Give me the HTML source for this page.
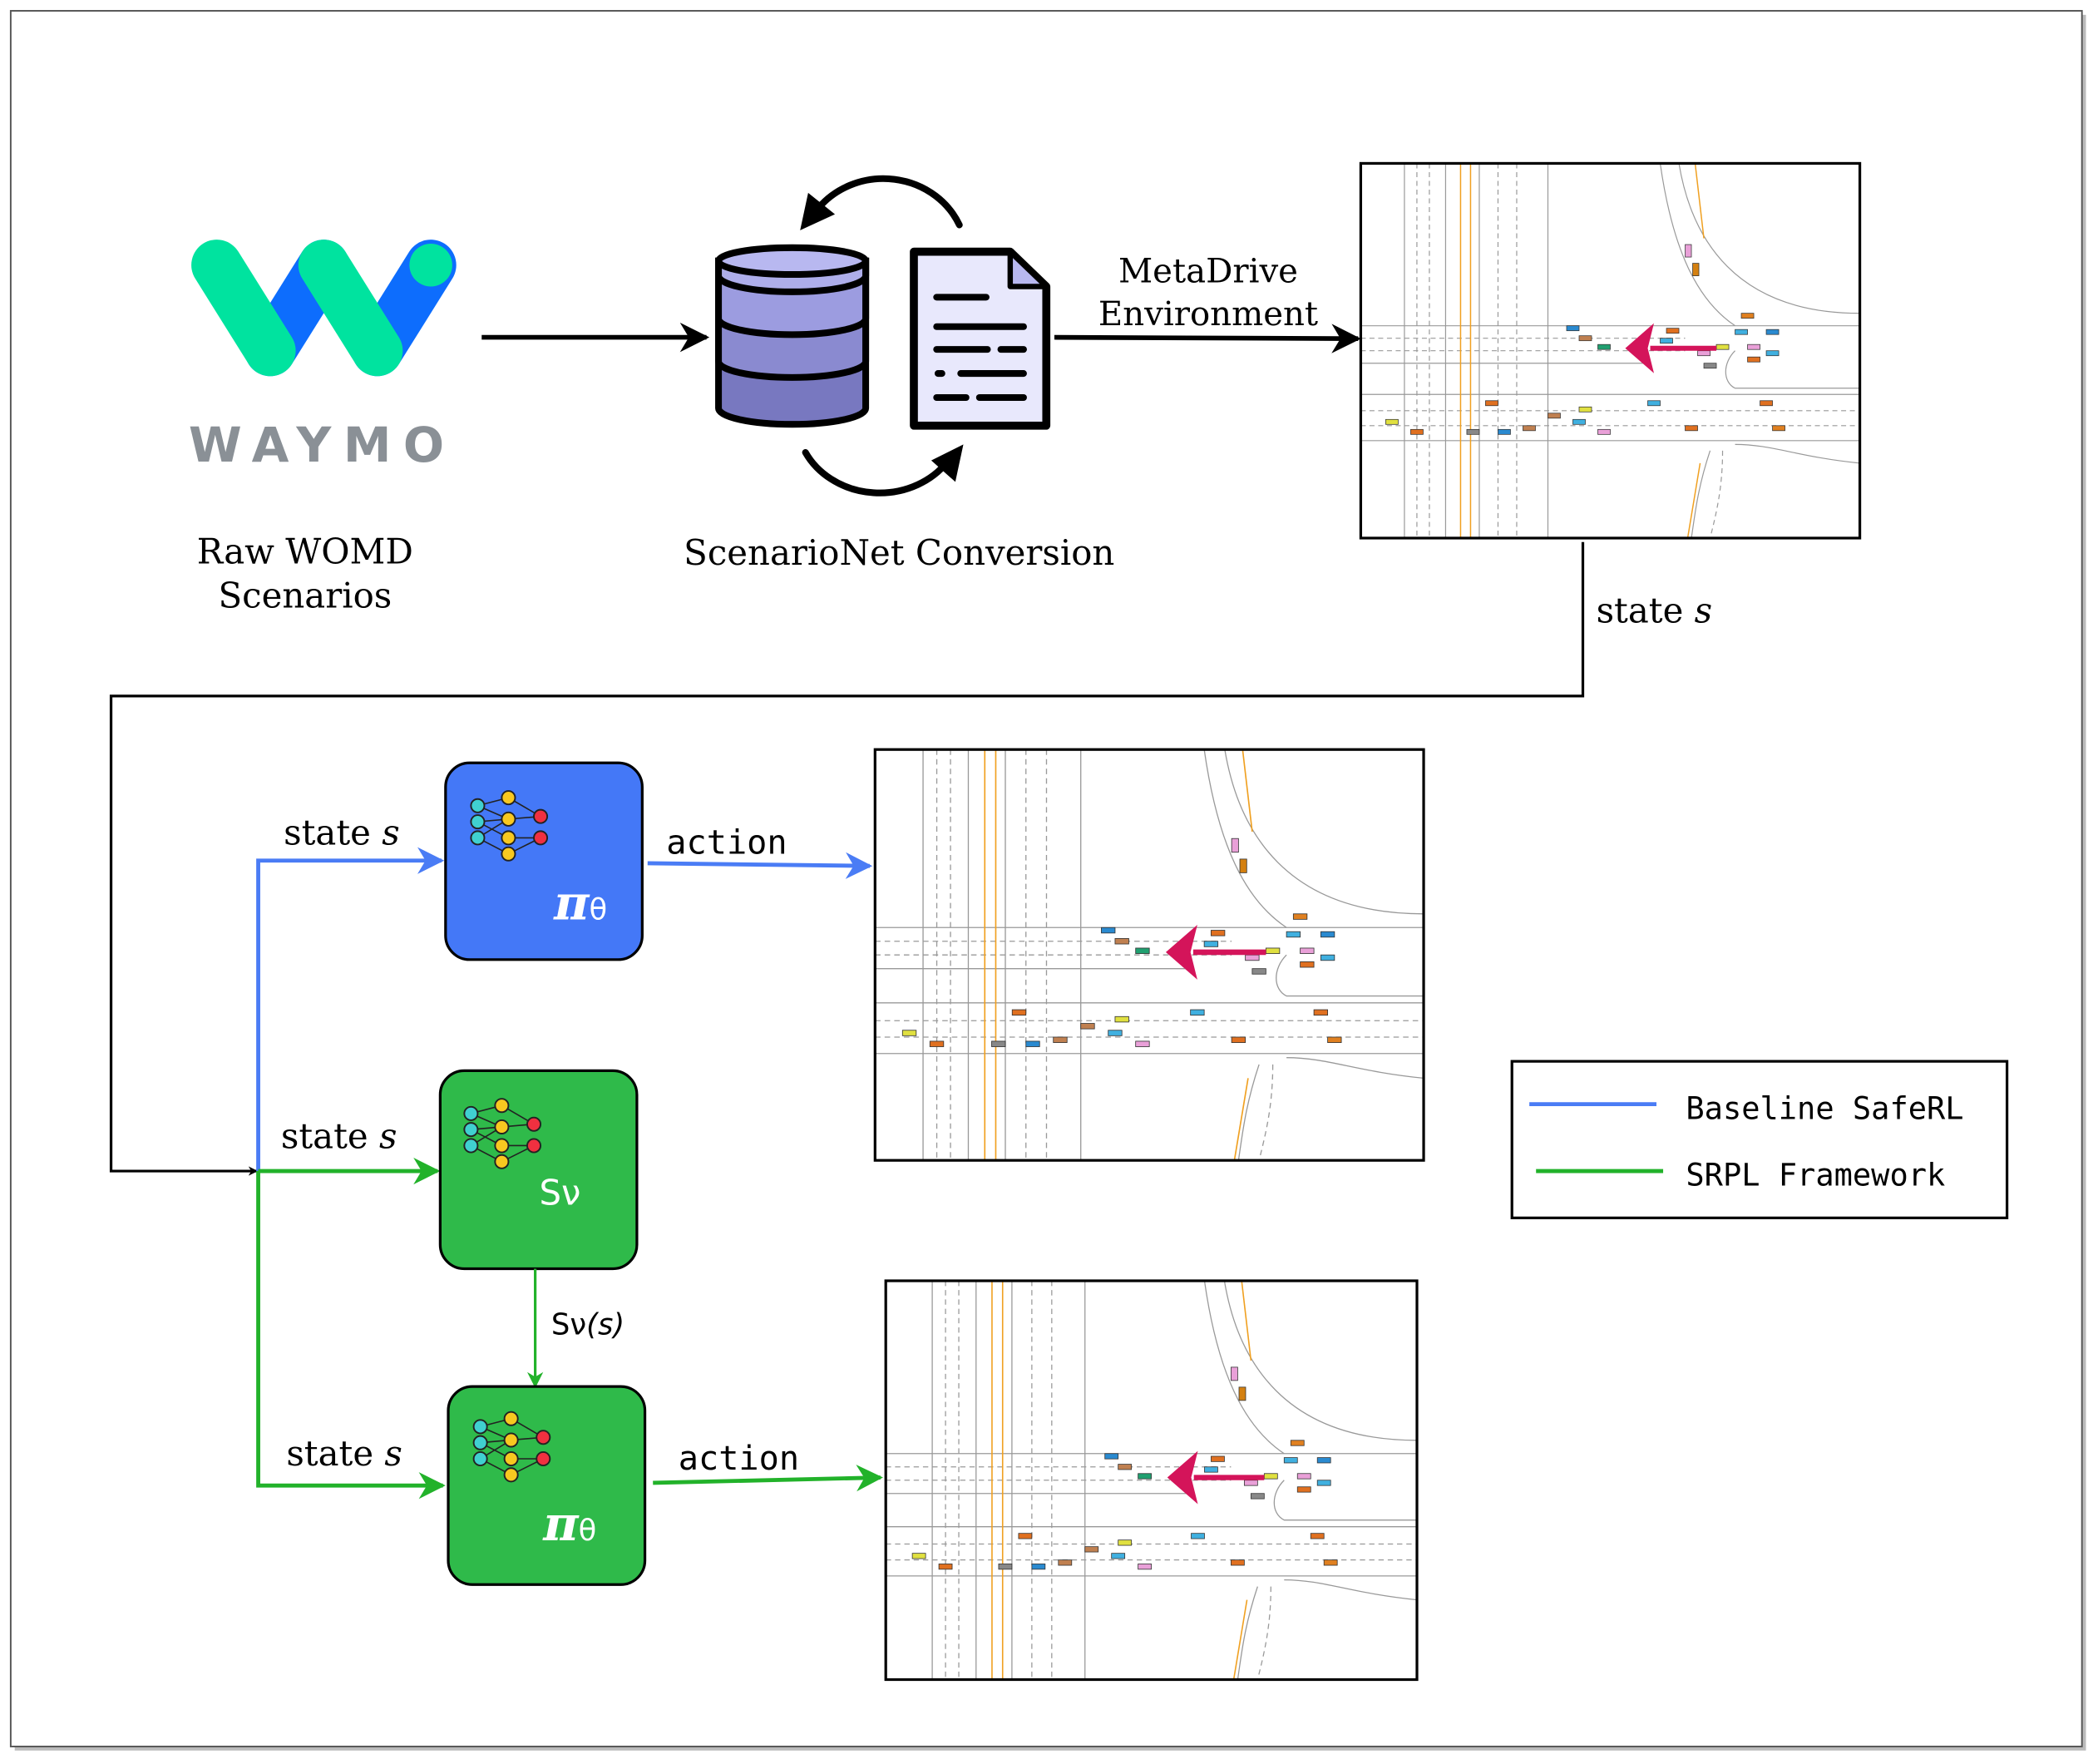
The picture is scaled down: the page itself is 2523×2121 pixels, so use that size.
<!DOCTYPE html>
<html><head><meta charset="utf-8"><style>
html,body{margin:0;padding:0;background:#fff;}
svg{display:block;}
.serif{font-family:"DejaVu Serif","Liberation Serif",serif;}
.mono{font-family:"DejaVu Sans Mono","Liberation Mono",monospace;}
.sans{font-family:"DejaVu Sans","Liberation Sans",sans-serif;}
</style></head><body>
<svg width="2523" height="2121" viewBox="0 0 1568 1318" xmlns="http://www.w3.org/2000/svg">
<defs>
<marker id="ak" viewBox="0 0 10 10" refX="9" refY="5" markerWidth="7" markerHeight="7" orient="auto" markerUnits="userSpaceOnUse"><path d="M0,0 L10,5 L0,10 L3,5z" fill="#000"/></marker>
<marker id="akb" viewBox="0 0 10 10" refX="9" refY="5" markerWidth="22" markerHeight="22" orient="auto" markerUnits="userSpaceOnUse"><path d="M0,0 L10,5 L0,10 L3,5z" fill="#000"/></marker>
<marker id="ab" viewBox="0 0 10 10" refX="9" refY="5" markerWidth="20" markerHeight="20" orient="auto" markerUnits="userSpaceOnUse"><path d="M0,0 L10,5 L0,10 L3,5z" fill="#4a7cf5"/></marker>
<marker id="ag" viewBox="0 0 10 10" refX="9" refY="5" markerWidth="20" markerHeight="20" orient="auto" markerUnits="userSpaceOnUse"><path d="M0,0 L10,5 L0,10 L3,5z" fill="#22b22a"/></marker>
<marker id="ag2" viewBox="0 0 10 10" refX="9" refY="5" markerWidth="12" markerHeight="12" orient="auto" markerUnits="userSpaceOnUse"><path d="M0,0 L10,5 L0,10 L3,5z" fill="#22b22a"/></marker>
<g id="map">
  <rect x="0" y="0" width="400" height="300" fill="#fff"/>
  <g stroke="#999" stroke-width="0.8" fill="none">
    <line x1="35" y1="0" x2="35" y2="300"/><line x1="45" y1="0" x2="45" y2="300" stroke-dasharray="4 3"/>
    <line x1="55" y1="0" x2="55" y2="300" stroke-dasharray="4 3"/><line x1="68" y1="0" x2="68" y2="300"/>
    <line x1="95" y1="0" x2="95" y2="300"/><line x1="110" y1="0" x2="110" y2="300" stroke-dasharray="4 3"/>
    <line x1="125" y1="0" x2="125" y2="300" stroke-dasharray="4 3"/><line x1="150" y1="0" x2="150" y2="300"/>
    <line x1="0" y1="130" x2="400" y2="130"/><line x1="0" y1="140" x2="260" y2="140" stroke-dasharray="4 3"/>
    <line x1="0" y1="150" x2="260" y2="150" stroke-dasharray="4 3"/><line x1="0" y1="160" x2="230" y2="160"/>
    <line x1="0" y1="185" x2="400" y2="185"/><line x1="0" y1="198" x2="400" y2="198" stroke-dasharray="4 3"/>
    <line x1="0" y1="210" x2="400" y2="210" stroke-dasharray="4 3"/><line x1="0" y1="222" x2="400" y2="222"/>
    <path d="M255,0 C265,60 300,120 400,120"/><path d="M240,0 C250,70 270,110 300,130"/>
    <path d="M280,230 C270,260 268,280 265,300"/><path d="M300,225 C330,225 350,235 400,240"/>
    <path d="M290,230 C290,260 285,280 280,300" stroke-dasharray="4 3"/>
    <path d="M300,150 C290,160 290,175 300,180 L400,180"/>
  </g>
  <g stroke="#f0a020" stroke-width="1"><line x1="80" y1="0" x2="80" y2="300"/><line x1="88" y1="0" x2="88" y2="300"/><line x1="268" y1="0" x2="275" y2="60"/><line x1="272" y1="240" x2="262" y2="300"/></g>
  <g stroke="#333" stroke-width="0.5">
    <rect x="260" y="65" width="5" height="10" fill="#e9a0d8"/><rect x="266" y="80" width="5" height="10" fill="#d48010"/>
    <rect x="165" y="130" width="10" height="4" fill="#2a8ad0"/><rect x="175" y="138" width="10" height="4" fill="#c08050"/>
    <rect x="190" y="145" width="10" height="4" fill="#20a070"/><rect x="245" y="132" width="10" height="4" fill="#e07020"/>
    <rect x="240" y="140" width="10" height="4" fill="#40b0e0"/><rect x="270" y="150" width="10" height="4" fill="#e9a0d8"/>
    <rect x="285" y="145" width="10" height="4" fill="#e0e040"/><rect x="305" y="120" width="10" height="4" fill="#e08020"/>
    <rect x="300" y="133" width="10" height="4" fill="#40b0e0"/><rect x="325" y="133" width="10" height="4" fill="#2a8ad0"/>
    <rect x="310" y="145" width="10" height="4" fill="#e9a0d8"/><rect x="325" y="150" width="10" height="4" fill="#40b0e0"/>
    <rect x="310" y="155" width="10" height="4" fill="#e07020"/><rect x="275" y="160" width="10" height="4" fill="#888"/>
    <rect x="20" y="205" width="10" height="4" fill="#e0e040"/><rect x="40" y="213" width="10" height="4" fill="#e07020"/>
    <rect x="100" y="190" width="10" height="4" fill="#e07020"/><rect x="85" y="213" width="10" height="4" fill="#888"/>
    <rect x="110" y="213" width="10" height="4" fill="#2a8ad0"/><rect x="130" y="210" width="10" height="4" fill="#c08050"/>
    <rect x="150" y="200" width="10" height="4" fill="#c08050"/><rect x="175" y="195" width="10" height="4" fill="#e0e040"/>
    <rect x="170" y="205" width="10" height="4" fill="#40b0e0"/><rect x="190" y="213" width="10" height="4" fill="#e9a0d8"/>
    <rect x="230" y="190" width="10" height="4" fill="#40b0e0"/><rect x="260" y="210" width="10" height="4" fill="#e07020"/>
    <rect x="320" y="190" width="10" height="4" fill="#e07020"/><rect x="330" y="210" width="10" height="4" fill="#e08020"/>
  </g>
  <line x1="285" y1="148" x2="232" y2="148" stroke="#d4145a" stroke-width="4"/>
  <path d="M212,148 L235,128 L230,148 L235,168z" fill="#d4145a"/>
</g>
<g id="net" stroke="#222" stroke-width="1.2">
  <g stroke-width="1" fill="none">
    <path d="M5,10 L28,4 M5,10 L28,20 M5,22 L28,20 M5,22 L28,34 M5,34 L28,20 M5,34 L28,46 M28,4 L52,18 M28,20 L52,18 M28,34 L52,34 M28,46 L52,34"/>
  </g>
  <circle cx="5" cy="10" r="5" fill="#40d0d0"/><circle cx="5" cy="22" r="5" fill="#40d0d0"/><circle cx="5" cy="34" r="5" fill="#40d0d0"/>
  <circle cx="28" cy="4" r="5" fill="#f8c820"/><circle cx="28" cy="20" r="5" fill="#f8c820"/><circle cx="28" cy="34" r="5" fill="#f8c820"/><circle cx="28" cy="46" r="5" fill="#f8c820"/>
  <circle cx="52" cy="18" r="5" fill="#f03040"/><circle cx="52" cy="34" r="5" fill="#f03040"/>
</g>
</defs>

<rect x="0" y="0" width="1568" height="1318" fill="#fff"/>
<rect x="11" y="11" width="1548" height="1297" fill="#bbb"/>
<rect x="8" y="8" width="1548" height="1297" fill="#fff" stroke="#555" stroke-width="1.2"/>

<!-- Waymo -->
<g stroke-linecap="round" fill="none" stroke-width="38">
  <path d="M202,262 L242,198" stroke="#0d6dfd"/>
  <path d="M282,262 L322,198" stroke="#0d6dfd"/>
  <path d="M162,198 L202,262" stroke="#00e39f"/>
  <path d="M242,198 L282,262" stroke="#00e39f"/>
</g>
<circle cx="322" cy="198" r="16" fill="#00e39f"/>
<text x="241" y="345" text-anchor="middle" class="sans" font-weight="bold" font-size="36" fill="#8a9096" letter-spacing="9">WAYMO</text>
<text x="228" y="421" text-anchor="middle" class="serif" font-size="26">Raw WOMD</text>
<text x="228" y="454" text-anchor="middle" class="serif" font-size="26">Scenarios</text>

<line x1="360" y1="252" x2="528" y2="252" stroke="#000" stroke-width="3.5" marker-end="url(#akb)"/>

<!-- database -->
<g stroke="#000" stroke-width="5">
  <path d="M537,195 L537,305 A55,12 0 0 0 647,305 L647,195z" fill="#7878c0"/>
  <path d="M537,195 L537,270 A55,12 0 0 0 647,270 L647,195z" fill="#8a8ad0"/>
  <path d="M537,195 L537,238 A55,12 0 0 0 647,238 L647,195z" fill="#9c9ce0"/>
  <path d="M537,195 L537,206 A55,12 0 0 0 647,206 L647,195z" fill="#aeaeea"/>
  <ellipse cx="592" cy="195" rx="55" ry="10" fill="#b8b8f0"/>
</g>
<!-- doc -->
<path d="M683,188 L755,188 L782,214 L782,318 L683,318z" fill="#e8e8fc" stroke="#000" stroke-width="6" stroke-linejoin="round"/>
<path d="M755,188 L755,214 L782,214z" fill="#b8b8f0" stroke="#000" stroke-width="4" stroke-linejoin="round"/>
<g stroke="#000" stroke-width="5" stroke-linecap="round">
  <line x1="700" y1="222" x2="737" y2="222"/><line x1="700" y1="244" x2="765" y2="244"/>
  <line x1="700" y1="261" x2="738" y2="261"/><line x1="748" y1="261" x2="765" y2="261"/>
  <line x1="701" y1="279" x2="704" y2="279"/><line x1="718" y1="279" x2="765" y2="279"/>
  <line x1="700" y1="297" x2="722" y2="297"/><line x1="732" y1="297" x2="765" y2="297"/>
</g>
<!-- circular arrows -->
<path d="M717,168 A62,58 0 0 0 612,155" fill="none" stroke="#000" stroke-width="5" stroke-linecap="round"/>
<path d="M598,172 L604,144 L624,160z" fill="#000"/>
<path d="M602,338 A62,55 0 0 0 708,345" fill="none" stroke="#000" stroke-width="5" stroke-linecap="round"/>
<path d="M720,332 L714,360 L696,344z" fill="#000"/>
<text x="672" y="422" text-anchor="middle" class="serif" font-size="26">ScenarioNet Conversion</text>

<line x1="788" y1="252" x2="1015" y2="253" stroke="#000" stroke-width="3.5" marker-end="url(#akb)"/>
<text x="903" y="211" text-anchor="middle" class="serif" font-size="25">MetaDrive</text>
<text x="903" y="243" text-anchor="middle" class="serif" font-size="25">Environment</text>

<!-- maps -->
<svg x="1017" y="122" width="373" height="280" viewBox="0 0 400 300" preserveAspectRatio="none"><use href="#map"/></svg>
<rect x="1017" y="122" width="373" height="280" fill="none" stroke="#000" stroke-width="2"/>
<svg x="654" y="560" width="410" height="307" viewBox="0 0 400 300" preserveAspectRatio="none"><use href="#map"/></svg>
<rect x="654" y="560" width="410" height="307" fill="none" stroke="#000" stroke-width="2"/>
<svg x="662" y="957" width="397" height="298" viewBox="0 0 400 300" preserveAspectRatio="none"><use href="#map"/></svg>
<rect x="662" y="957" width="397" height="298" fill="none" stroke="#000" stroke-width="2"/>

<!-- loop line -->
<polyline points="1183,405 1183,520 83,520 83,875 192,875" fill="none" stroke="#000" stroke-width="2" marker-end="url(#ak)"/>
<text x="1193" y="465" class="serif" font-size="26">state <tspan font-style="italic">s</tspan></text>

<!-- blue -->
<polyline points="193,875 193,643 330,643" fill="none" stroke="#4a7cf5" stroke-width="3" marker-end="url(#ab)"/>
<text x="212" y="631" class="serif" font-size="26">state <tspan font-style="italic">s</tspan></text>
<rect x="333" y="570" width="147" height="147" rx="18" fill="#4478f7" stroke="#000" stroke-width="2"/>
<use href="#net" x="352" y="592"/>
<text x="414" y="687" class="serif" font-size="36" font-style="italic" font-weight="bold" fill="#fff">π<tspan font-size="22" font-style="normal" font-weight="normal" class="sans">θ</tspan></text>
<line x1="484" y1="645" x2="650" y2="647" stroke="#4a7cf5" stroke-width="3" marker-end="url(#ab)"/>
<text x="498" y="638" class="mono" font-size="25">action</text>

<!-- green -->
<line x1="193" y1="875" x2="327" y2="875" stroke="#22b22a" stroke-width="3" marker-end="url(#ag)"/>
<text x="210" y="858" class="serif" font-size="26">state <tspan font-style="italic">s</tspan></text>
<rect x="329" y="800" width="147" height="148" rx="18" fill="#2fba4a" stroke="#000" stroke-width="2"/>
<use href="#net" x="347" y="822"/>
<text x="403" y="900" class="sans" font-size="26" fill="#fff">Sν</text>
<line x1="400" y1="948" x2="400" y2="1036" stroke="#22b22a" stroke-width="2" marker-end="url(#ag2)"/>
<text x="412" y="997" class="sans" font-size="22">Sν<tspan font-style="italic">(s)</tspan></text>
<polyline points="193,875 193,1110 331,1110" fill="none" stroke="#22b22a" stroke-width="3" marker-end="url(#ag)"/>
<text x="214" y="1095" class="serif" font-size="26">state <tspan font-style="italic">s</tspan></text>
<rect x="335" y="1036" width="147" height="148" rx="18" fill="#2fba4a" stroke="#000" stroke-width="2"/>
<use href="#net" x="354" y="1056"/>
<text x="406" y="1151" class="serif" font-size="36" font-style="italic" font-weight="bold" fill="#fff">π<tspan font-size="22" font-style="normal" font-weight="normal" class="sans">θ</tspan></text>
<line x1="488" y1="1108" x2="658" y2="1104" stroke="#22b22a" stroke-width="3" marker-end="url(#ag)"/>
<text x="507" y="1098" class="mono" font-size="25">action</text>

<!-- legend -->
<rect x="1130" y="793" width="370" height="117" fill="#fff" stroke="#000" stroke-width="2"/>
<line x1="1143" y1="825" x2="1238" y2="825" stroke="#4a7cf5" stroke-width="3"/>
<text x="1260" y="836" class="mono" font-size="23">Baseline SafeRL</text>
<line x1="1148" y1="875" x2="1243" y2="875" stroke="#22b22a" stroke-width="3"/>
<text x="1260" y="886" class="mono" font-size="23">SRPL Framework</text>
</svg>
</body></html>
